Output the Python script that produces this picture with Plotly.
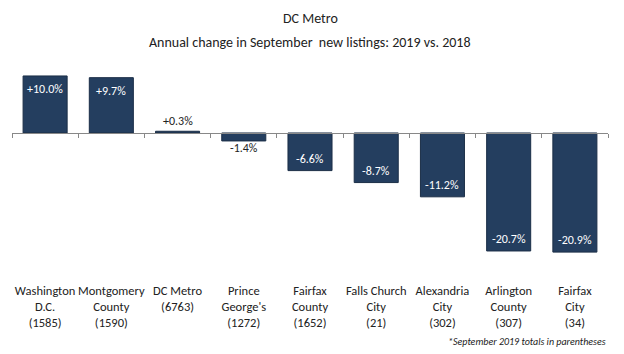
import plotly.graph_objects as go

regions = ["Washington<br>D.C.", "Montgomery<br>County", "DC Metro", "Prince<br>George's",
           "Fairfax<br>County", "Falls Church<br>City", "Alexandria<br>City", "Arlington<br>County",
           "Fairfax<br>City"]
totals = ["(1585)", "(1590)", "(6763)", "(1272)", "(1652)", "(21)", "(302)", "(307)", "(34)"]
changes = [10.0, 9.7, 0.3, -1.4, -6.6, -8.7, -11.2, -20.7, -20.9]

tick_text = []
for r, t in zip(regions, totals):
    tick_text.append(r + "<br>" + t)

labels = [("+" if v > 0 else "") + f"{v:.1f}%" for v in changes]

FONT = "Carlito, Calibri, Lato, sans-serif"
DARK = "#243E5F"
TXT = "#222222"

W, H = 624, 354
mt, mb, ml, mr = 60, 76, 12, 16
yr = [-25.44, 12.8]
zero_pos = (0 - yr[0]) / (yr[1] - yr[0])
ph = H - mt - mb

def py(ypx):
    return (H - mb - ypx) / ph

x_idx = list(range(len(changes)))

fig = go.Figure()
fig.add_trace(go.Bar(
    x=x_idx, y=changes,
    marker=dict(color=DARK, line=dict(color="#1B2E47", width=1)),
    cliponaxis=False, hoverinfo="skip",
))
# invisible trace for the zero-line axis ticks
fig.add_trace(go.Scatter(x=[x_idx[0]], y=[0], xaxis="x2", mode="markers",
                         marker=dict(opacity=0), showlegend=False, hoverinfo="skip"))

annotations = []
for xi, v, lab in zip(x_idx, changes, labels):
    inside = abs(v) > 5
    if inside:
        shift = -13 if v > 0 else 12
        col = "white"
    else:
        shift = 10 if v > 0 else -7
        col = TXT
    annotations.append(dict(x=xi, y=v, xref="x", yref="y", text=lab, showarrow=False,
                            yanchor="middle", yshift=shift,
                            font=dict(size=12, family=FONT, color=col)))

annotations += [
    dict(text="DC Metro", x=0.5, y=py(19), xref="paper", yref="paper", yanchor="middle",
         showarrow=False, font=dict(size=14, family=FONT, color=TXT)),
    dict(text="Annual change in September  new listings: 2019 vs. 2018", x=0.5, y=py(42),
         xref="paper", yref="paper", yanchor="middle", showarrow=False,
         font=dict(size=14, family=FONT, color=TXT)),
    dict(text="<i>*September 2019 totals in parentheses</i>", x=1.0, y=py(341),
         xref="paper", yref="paper", xanchor="right", yanchor="middle", showarrow=False,
         font=dict(size=10, family=FONT, color=TXT)),
]

fig.update_layout(
    width=W, height=H, margin=dict(t=mt, b=mb, l=ml, r=mr),
    paper_bgcolor="white", plot_bgcolor="white", showlegend=False,
    bargap=0.335,
    font=dict(family=FONT, color=TXT, size=12),
    xaxis=dict(range=[-0.5, len(changes) - 0.5], tickvals=x_idx, ticktext=tick_text,
               showline=False, ticks="", showgrid=False, zeroline=False,
               ticklabelstandoff=3,
               tickfont=dict(size=12.5, family=FONT, color=TXT)),
    xaxis2=dict(overlaying="x", anchor="free", position=zero_pos,
                range=[-0.5, len(changes) - 0.5],
                tickvals=[i - 0.5 for i in range(len(changes) + 1)],
                showticklabels=False, ticks="outside", ticklen=4, tickcolor="#888888",
                showline=True, linecolor="#888888", linewidth=1, showgrid=False, zeroline=False),
    yaxis=dict(range=yr, visible=False, showgrid=False, zeroline=False),
    annotations=annotations,
)

fig.write_html("out.html")
